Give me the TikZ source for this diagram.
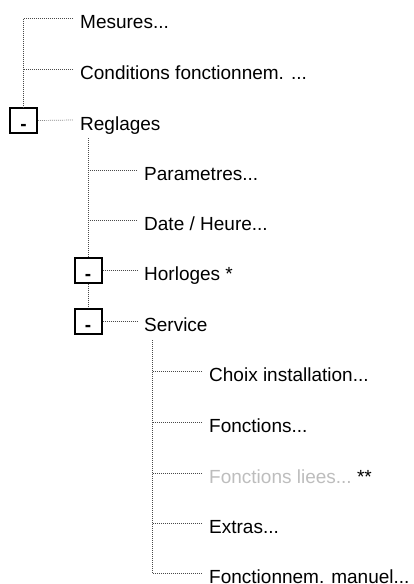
\documentclass[tikz,border=0pt]{standalone}
\usepackage{fontspec}
\setmainfont{Liberation Sans}
\usetikzlibrary{positioning}
\definecolor{pointille}{HTML}{4A4A4A}
\definecolor{grisclair}{HTML}{BDBDBD}

\begin{document}
\begin{tikzpicture}[
  x=1pt, y=-1pt, font=\fontsize{19}{23}\selectfont,
  entree/.style={anchor=west, inner xsep=7pt, inner ysep=0pt,
                 text height=20pt, text depth=0pt},
  boite/.style={draw, line width=2pt, minimum width=27pt, minimum height=25pt,
                inner sep=0pt, text height=20pt, text depth=0pt},
  trait/.style={pointille, line width=0.7pt, dash pattern=on 0.7pt off 1.3pt}
]
  \useasboundingbox (0,0) rectangle (414,584);
  % niveau 0
  \node[entree] (mes) at (73,18)  {Mesures...};
  \node[entree] (con) at (73,69)  {Conditions fonctionnem. ...};
  \node[entree] (reg) at (73,120) {Reglages};
  \node[boite]  (b1)  at (23.5,120.5) {\textbf{-}};
  % niveau 1
  \node[entree] (par) at (137,170) {Parametres...};
  \node[entree] (dat) at (137,220) {Date / Heure...};
  \node[entree] (hor) at (137,270) {Horloges *};
  \node[entree] (ser) at (137,321) {Service};
  \node[boite]  (b2)  at (88,270) {\textbf{-}};
  \node[boite]  (b3)  at (88,321) {\textbf{-}};
  % niveau 2
  \node[entree] (cho) at (202,371) {Choix installation...};
  \node[entree] (fon) at (202,422) {Fonctions...};
  \node[entree] (fli) at (202,473) {\textcolor{grisclair}{Fonctions liees...}\ **};
  \node[entree] (ext) at (202,523) {Extras...};
  \node[entree] (man) at (202,573) {Fonctionnem. manuel...};
  \coordinate (s1) at (88,138);
  \coordinate (s2) at (152,340);

  \draw[trait] (mes.west) -| (b1.north);
  \draw[trait] (con.west) -- (con.west -| b1.north);
  \draw[trait] (b1.east) -- (reg.west);

  \draw[trait] (s1) -- (b2.north);
  \draw[trait] (par.west) -- (par.west -| s1);
  \draw[trait] (dat.west) -- (dat.west -| s1);
  \draw[trait] (b2.east) -- (hor.west);
  \draw[trait] (b2.south) -- (b3.north);
  \draw[trait] (b3.east) -- (ser.west);

  \draw[trait] (s2) |- (man.west);
  \draw[trait] (cho.west) -- (cho.west -| s2);
  \draw[trait] (fon.west) -- (fon.west -| s2);
  \draw[trait] (fli.west) -- (fli.west -| s2);
  \draw[trait] (ext.west) -- (ext.west -| s2);
\end{tikzpicture}
\end{document}
